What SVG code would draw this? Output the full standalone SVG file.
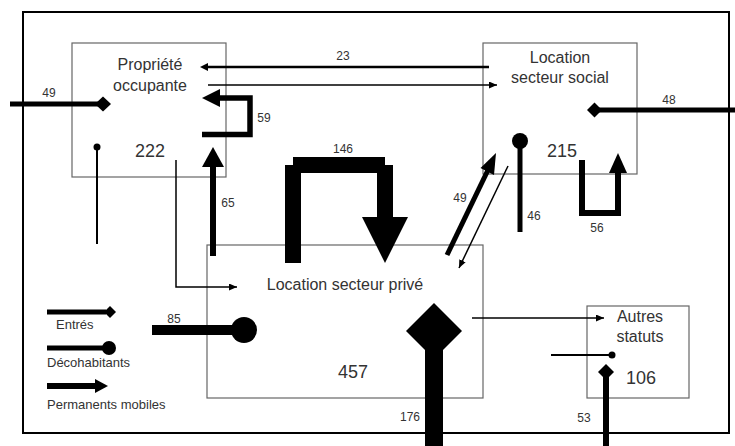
<svg xmlns="http://www.w3.org/2000/svg" width="735" height="446" viewBox="0 0 735 446">
<defs>
<style>
.box{fill:#fff;stroke:#666;stroke-width:1.2}
.frame{fill:none;stroke:#000;stroke-width:2}
text{font-family:"Liberation Sans",Arial,sans-serif;fill:#333}
.lbl{font-size:16px;text-anchor:middle}
.num{font-size:18px;text-anchor:middle}
.val{font-size:12px;text-anchor:middle}
.leg{font-size:13px}
.thin{fill:none;stroke:#000;stroke-width:1.5}
.thick{fill:none;stroke:#000;stroke-linejoin:miter;stroke-linecap:butt}
.blk{fill:#000}
</style>
<marker id="ah" markerUnits="userSpaceOnUse" markerWidth="9" markerHeight="7" refX="8" refY="3.5" orient="auto">
<path d="M0,0 L8,3.5 L0,7 z" fill="#000"/>
</marker>
</defs>
<rect width="735" height="446" fill="#fff"/>
<rect class="frame" x="23" y="12" width="706" height="421"/>

<g id="node-propriete">
<rect class="box" x="72" y="43" width="154" height="134"/>
<text class="lbl" x="150" y="70">Propriété</text>
<text class="lbl" x="150" y="91">occupante</text>
<text class="num" x="150" y="157">222</text>
</g>
<g id="node-social">
<rect class="box" x="483" y="43" width="154" height="131"/>
<text class="lbl" x="560" y="63">Location</text>
<text class="lbl" x="560" y="83">secteur social</text>
<text class="num" x="562" y="157">215</text>
</g>
<g id="node-prive">
<rect class="box" x="207" y="245" width="276" height="153"/>
<text class="lbl" x="345" y="290">Location secteur privé</text>
<text class="num" x="353" y="378">457</text>
</g>
<g id="node-autres">
<rect class="box" x="587" y="306" width="102" height="92"/>
<text class="lbl" x="640" y="322">Autres</text>
<text class="lbl" x="640" y="342">statuts</text>
<text class="num" x="641" y="384">106</text>
</g>

<g id="connectors">
<!-- entry 49 to propriete -->
<line class="thick" x1="10" y1="104" x2="100" y2="104" stroke-width="5"/>
<polygon class="blk" points="95,104 103,96.5 111,104 103,111.5"/>
<text class="val" x="49" y="97">49</text>
<!-- 23 social -> propriete -->
<line class="thick" x1="489" y1="67" x2="207" y2="67" stroke-width="2.5"/>
<polygon class="blk" points="200,67 208,63 208,71"/>
<text class="val" x="343" y="60">23</text>
<!-- thin propriete -> social -->
<line class="thin" x1="208" y1="85" x2="497" y2="85" marker-end="url(#ah)"/>
<!-- loop 59 -->
<path class="thick" d="M202,134.5 H250 V98 H218" stroke-width="5.5"/>
<polygon class="blk" points="202,98 220,89 220,107"/>
<text class="val" x="264" y="122">59</text>
<!-- 65 prive -> propriete -->
<line class="thick" x1="213" y1="256" x2="213" y2="165" stroke-width="6"/>
<polygon class="blk" points="213,147 202,167 224,167"/>
<text class="val" x="228" y="207">65</text>
<!-- decohabitants propriete -->
<line class="thick" x1="97" y1="147" x2="97" y2="244" stroke-width="2"/>
<circle class="blk" cx="97" cy="147" r="3.5"/>
<!-- thin propriete -> prive -->
<polyline class="thin" points="176,160 176,287 237,287" marker-end="url(#ah)"/>
<!-- loop 146 -->
<rect class="blk" x="285" y="165" width="16" height="98"/>
<rect class="blk" x="293" y="157" width="92" height="16"/>
<rect class="blk" x="377" y="165" width="16" height="53"/>
<polygon class="blk" points="362,217 408,217 385,263"/>
<text class="val" x="343" y="153">146</text>
<!-- 49 prive -> social -->
<line class="thick" x1="447" y1="255" x2="488" y2="170" stroke-width="5"/>
<polygon class="blk" points="496,153 494,175 480.5,168"/>
<text class="val" x="460" y="202">49</text>
<!-- thin social -> prive -->
<line class="thin" x1="508" y1="166" x2="459" y2="268" marker-end="url(#ah)"/>
<!-- decohabitants 46 social -->
<line class="thick" x1="520" y1="141" x2="520" y2="232" stroke-width="5"/>
<circle class="blk" cx="520" cy="141" r="8"/>
<text class="val" x="534" y="220">46</text>
<!-- entry 48 social -->
<line class="thick" x1="735" y1="110" x2="598" y2="110" stroke-width="5"/>
<polygon class="blk" points="587,110 594.5,102.5 602,110 594.5,117.5"/>
<text class="val" x="669" y="104">48</text>
<!-- loop 56 -->
<path class="thick" d="M582,160 V213 H618 V171" stroke-width="6"/>
<polygon class="blk" points="618,153 609,173 627,173"/>
<text class="val" x="597" y="232">56</text>
<!-- thin prive -> autres -->
<line class="thin" x1="472" y1="318" x2="604" y2="318" marker-end="url(#ah)"/>
<!-- decohabitants autres -->
<line class="thick" x1="551" y1="355" x2="612" y2="355" stroke-width="2"/>
<circle class="blk" cx="612" cy="355" r="3.5"/>
<!-- entry 53 autres -->
<line class="thick" x1="606" y1="446" x2="606" y2="376" stroke-width="6"/>
<polygon class="blk" points="598,372 606,364 614,372 606,380"/>
<text class="val" x="584" y="422">53</text>
<!-- entry 176 prive -->
<rect class="blk" x="425" y="340" width="18" height="106"/>
<polygon class="blk" points="434,303 462,331 434,359 406,331"/>
<text class="val" x="410" y="421">176</text>
<!-- decohabitants 85 prive -->
<line class="thick" x1="152" y1="330" x2="240" y2="330" stroke-width="10"/>
<circle class="blk" cx="244" cy="330" r="13"/>
<text class="val" x="174" y="323">85</text>
</g>

<g id="legend">
<line class="thick" x1="47" y1="312" x2="106" y2="312" stroke-width="5"/>
<polygon class="blk" points="104,312 110,306 116,312 110,318"/>
<text class="leg" x="56" y="329">Entrés</text>
<line class="thick" x1="47" y1="348" x2="106" y2="348" stroke-width="5"/>
<circle class="blk" cx="109" cy="348" r="7"/>
<text class="leg" x="47" y="367">Décohabitants</text>
<line class="thick" x1="47" y1="386" x2="97" y2="386" stroke-width="6"/>
<polygon class="blk" points="108,386 95,379 95,393"/>
<text class="leg" x="47" y="409">Permanents mobiles</text>
</g>
</svg>
